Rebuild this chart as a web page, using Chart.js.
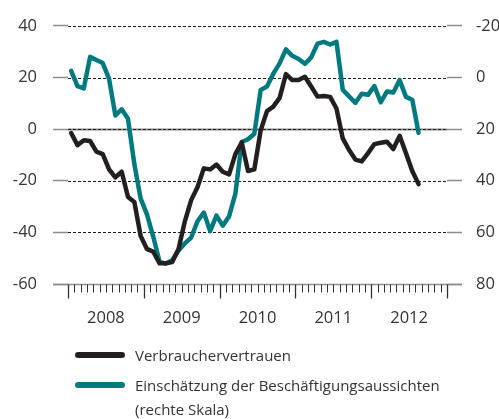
<!DOCTYPE html>
<html lang="de">
<head>
<meta charset="utf-8">
<script src="https://cdn.jsdelivr.net/npm/chart.js@4"></script>
<style>
  html, body { margin: 0; padding: 0; background: #fff; }
  #wrap { position: relative; width: 499px; height: 419px; }
  #chart { position: absolute; left: 0; top: 0; }
  .legend { position: absolute; left: 0; top: 0; font-family: "Open Sans", sans-serif; font-size: 15px; color: #333; }
  .swatch { position: absolute; left: 75px; width: 50px; height: 6px; border-radius: 3px; }
  .text { position: absolute; left: 135px; line-height: 24px; white-space: nowrap; }
</style>
</head>
<body>
<div id="wrap">
  <canvas id="chart" width="499" height="419"></canvas>
  <div class="legend">
    <div class="swatch" style="top:352px;background:#231f20"></div>
    <div class="text" style="top:343px">Verbrauchervertrauen</div>
    <div class="swatch" style="top:382px;background:#00797f"></div>
    <div class="text" style="top:373px">Einschätzung der Beschäftigungsaussichten<br>(rechte Skala)</div>
  </div>
</div>
<script>
// Jahre auf der x-Achse, Monatswerte ab Januar 2008
const years = ["2008", "2009", "2010", "2011", "2012"];

// Verbrauchervertrauen (linke Skala)
const verbrauchervertrauen = [
  -1.5, -6.2, -4.3, -4.6, -8.7, -9.7, -15.6, -18.7, -16.5, -26.3, -28.2, -41.4,
  -46.4, -47.5, -52, -52, -51.5, -46.4, -35.7, -27.5, -22.5, -15.2, -15.6, -13.7,
  -16.5, -17.5, -9.7, -5.2, -16.2, -15.6, -0.5, 7.0, 8.7, 12.1, 21.3, 19.0,
  19.0, 20.3, 16.5, 12.6, 12.8, 12.5, 8.0, -3.6, -8.1, -11.8, -12.5, -9.3,
  -5.8, -5.3, -4.9, -7.7, -2.6, -9.3, -16.2, -21.3
];

// Beschäftigungsaussichten (rechte Skala, invertiert)
const beschaeftigung = [
  -2.6, 3.3, 4.2, -8.0, -6.8, -5.6, 0.5, 14.7, 12.3, 16.0, 33.5, 46.9,
  53.0, 61.7, 71.4, 72.1, 70.8, 67.0, 64.3, 62.0, 55.7, 52.3, 59.5, 53.5,
  57.4, 53.8, 45.0, 25.0, 23.9, 21.8, 4.8, 3.5, -1.5, -5.5, -10.9, -8.4,
  -7.2, -5.3, -7.8, -13.1, -13.8, -12.8, -13.8, 4.8, 7.3, 9.8, 6.3, 6.7,
  3.3, 9.6, 5.4, 5.8, 1.0, 7.5, 8.6, 21.4
];

const leftTicks = [-60, -40, -20, 0, 20, 40];

const months = [];
years.forEach(y => {
  for (let m = 1; m <= 12; m++) months.push(y + "-" + String(m).padStart(2, "0"));
});

const FONT = { family: "'Open Sans', sans-serif", size: 16.5 };
const TEXT = "#333";
const STUB = "#8c8c8c";

// Gitterlinien, Nulllinie und Zeitachse
const axisDecor = {
  id: "axisDecor",
  beforeDatasetsDraw(chart) {
    const { ctx, chartArea: { left, right, bottom }, scales: { x, y } } = chart;
    ctx.save();

    const y0 = Math.round(y.getPixelForValue(0)) + 0.5;
    ctx.strokeStyle = STUB;
    ctx.lineWidth = 2;
    ctx.beginPath();
    ctx.moveTo(left, y0);
    ctx.lineTo(right, y0);
    ctx.stroke();

    ctx.strokeStyle = "#1a1a1a";
    ctx.lineWidth = 1;
    ctx.setLineDash([3, 2]);
    leftTicks.filter(v => v > -60).forEach(v => {
      const py = Math.round(y.getPixelForValue(v)) + 0.5;
      ctx.beginPath();
      ctx.moveTo(left, py);
      ctx.lineTo(right, py);
      ctx.stroke();
    });
    ctx.setLineDash([]);

    // x-Achse
    const yb = Math.round(bottom) + 0.5;
    ctx.strokeStyle = STUB;
    ctx.lineWidth = 1.5;
    ctx.beginPath();
    ctx.moveTo(left - 15, yb);
    ctx.lineTo(right + 15, yb);
    ctx.stroke();

    ctx.strokeStyle = "#333";
    for (let k = 0; k <= months.length; k++) {
      const px = Math.round(x.getPixelForValue(k - 0.5)) + 0.5;
      const major = k % 12 === 0;
      ctx.lineWidth = major ? 1.3 : 1;
      ctx.beginPath();
      ctx.moveTo(px, yb);
      ctx.lineTo(px, yb + (major ? 14 : 8));
      ctx.stroke();
    }

    ctx.fillStyle = TEXT;
    ctx.font = FONT.size + "px " + FONT.family;
    ctx.textAlign = "center";
    ctx.textBaseline = "middle";
    years.forEach((yr, i) => {
      ctx.fillText(yr, x.getPixelForValue(i * 12 + 5.5), 318);
    });
    ctx.restore();
  }
};

new Chart(document.getElementById("chart"), {
  type: "line",
  data: {
    labels: months,
    datasets: [
      {
        label: "Verbrauchervertrauen",
        data: verbrauchervertrauen,
        yAxisID: "y",
        borderColor: "#231f20",
        borderWidth: 4.5,
      },
      {
        label: "Einschätzung der Beschäftigungsaussichten (rechte Skala)",
        data: beschaeftigung,
        yAxisID: "y2",
        borderColor: "#00797f",
        borderWidth: 4.5,
      },
    ],
  },
  options: {
    responsive: false,
    animation: false,
    layout: { padding: { top: 16, bottom: 135, left: 0, right: 0 } },
    elements: {
      point: { radius: 0 },
      line: { tension: 0, borderCapStyle: "round", borderJoinStyle: "round" },
    },
    plugins: { legend: { display: false }, tooltip: { enabled: false } },
    scales: {
      x: { type: "category", offset: true, display: false },
      y: {
        position: "left",
        min: -60,
        max: 40,
        afterFit: (s) => { s.width = 68; },
        afterBuildTicks: (s) => { s.ticks = leftTicks.map(v => ({ value: v })); },
        ticks: { font: FONT, color: TEXT, padding: 16 },
        grid: { drawOnChartArea: false, tickLength: 15, tickColor: STUB, tickWidth: 1.5 },
        border: { display: false },
      },
      y2: {
        position: "right",
        min: -20,
        max: 80,
        reverse: true,
        afterFit: (s) => { s.width = 52; },
        afterBuildTicks: (s) => { s.ticks = leftTicks.map(v => ({ value: 20 - v })); },
        ticks: { font: FONT, color: TEXT, padding: 14 },
        grid: { drawOnChartArea: false, tickLength: 15, tickColor: STUB, tickWidth: 1.5 },
        border: { display: false },
      },
    },
  },
  plugins: [axisDecor],
});
</script>
</body>
</html>
